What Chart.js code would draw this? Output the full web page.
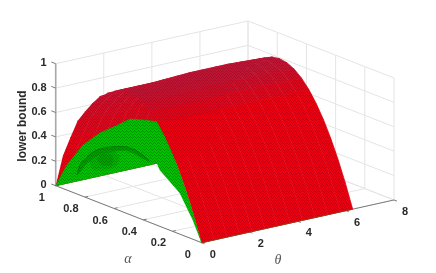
<!DOCTYPE html>
<html><head><meta charset="utf-8">
<style>html,body{margin:0;padding:0;background:#fff}#w{position:relative;width:436px;height:273px}</style>
<script src="https://cdn.jsdelivr.net/npm/chart.js@4"></script>
</head><body><div id="w"><canvas id="c" width="436" height="273"></canvas></div>
<script>
// ---- axis ticks ----
const thetaTicks=[0,2,4,6,8];
const alphaTicks=[0,0.2,0.4,0.6,0.8,1];
const zTicks=[0,0.2,0.4,0.6,0.8,1];
const alphaTickLabels=['0','0.2','0.4','0.6','0.8','1'];
const zTickLabels=['0','0.2','0.4','0.6','0.8','1'];
const zLabel='lower bound', alphaLabel='\u03b1', thetaLabel='\u03b8';
// ---- red surface ----
const redAlpha=[0,.05,.1,.15,.2,.25,.3,.35,.4,.45,.5,.55,.6,.65,.7,.75,.8,.85,.9,.95,1];
const redTheta=[0,.52,1.05,1.57,2.09,2.62,3.14,3.67,4.19,4.71,5.24,5.76,6.28];
const redZ=[
[0,.19,.36,.51,.64,.75,.84,.91,.96,.99,1,.99,.96,.92,.87,.79,.70,.60,.44,.27,0],
[0,.19,.36,.51,.64,.75,.84,.91,.96,.99,1,.99,.96,.92,.87,.79,.70,.60,.44,.27,0],
[0,.19,.36,.51,.64,.75,.84,.91,.96,.99,1,.99,.96,.92,.87,.79,.70,.60,.44,.27,0],
[0,.19,.36,.51,.64,.75,.84,.91,.96,.99,1,.99,.96,.92,.87,.79,.70,.60,.44,.27,0],
[0,.19,.36,.51,.64,.75,.84,.91,.965,.995,1.005,.995,.965,.92,.87,.79,.70,.60,.44,.27,0],
[0,.19,.36,.51,.64,.75,.84,.915,.97,1,1.01,1,.97,.92,.87,.79,.70,.60,.44,.27,0],
[0,.19,.36,.51,.64,.75,.84,.92,.975,1.005,1.015,1.005,.975,.925,.87,.79,.70,.60,.44,.27,0],
[0,.19,.36,.51,.64,.75,.84,.92,.975,1.005,1.015,1.005,.975,.925,.87,.79,.70,.60,.44,.27,0],
[0,.19,.36,.51,.64,.75,.84,.92,.975,1.005,1.015,1.005,.975,.925,.87,.79,.70,.60,.44,.27,0],
[0,.19,.36,.51,.64,.75,.84,.92,.975,1.005,1.015,1.005,.975,.925,.87,.79,.70,.60,.44,.27,0],
[0,.19,.36,.51,.64,.75,.84,.915,.97,1,1.012,1,.97,.92,.87,.79,.70,.60,.44,.27,0],
[0,.19,.36,.51,.64,.75,.84,.91,.965,.995,1.005,.995,.965,.92,.87,.79,.70,.60,.44,.27,0],
[0,.19,.36,.51,.64,.75,.84,.91,.96,.99,1,.99,.96,.92,.87,.79,.70,.60,.44,.27,0]
];
// ---- green surface outlines ----
const greenTheta=[0,4.22,0,0,0,0,0,0,0,0,0,0,0,0,0,0,0,0,0,0];
const greenAlpha=[1,1,.286,.149,.06,0,.05,.1,.15,.2,.25,.306,.402,.491,.56,.697,.813,.923,1,1];
const greenZ=[0,0,.462,.338,.158,0,.19,.36,.51,.64,.75,.848,.818,.784,.711,.574,.421,.206,0,0];
const humpTheta=[0,4.0,0,0,0,0,0,0,0,0,0,0,0,0,0,0,0];
const humpAlpha=[1,1,.36,.402,.457,.512,.56,.628,.697,.745,.786,.834,.854,.90,.94,.97,1];
const humpZ=[0,0,.50,.531,.547,.545,.527,.491,.443,.395,.335,.248,.156,.10,.06,.03,0];
const archAlpha=[.854,.834,.786,.745,.697,.628,.56,.512,.457,.402,.36];
const archZ=[.156,.248,.335,.395,.443,.491,.527,.545,.547,.531,.50];
const bandAlpha=[.854,.834,.786,.745,.697,.628,.56,.512,.457,.402,.36,.402,.457,.512,.56,.628,.697,.745,.786,.834];
const bandZ=[.156,.248,.335,.395,.443,.491,.527,.545,.547,.531,.50,.50,.515,.515,.495,.45,.395,.345,.285,.19];
const blobOuterAlpha=[.77,.72,.66,.60,.56,.58,.64,.70,.75];
const blobOuterZ=[.31,.39,.45,.48,.44,.36,.30,.27,.25];
const blobInnerAlpha=[.72,.68,.63,.60,.62,.68];
const blobInnerZ=[.35,.41,.44,.40,.34,.31];

// ---- view: orthographic projection of (theta, alpha, z) ----
const O={x:201.7,y:242.7}, T={x:24.04,y:-5.34}, A={x:-146,y:-57}, Z={x:0,y:-122};
const P=(t,a,z)=>({x:O.x+t*T.x+a*A.x+z*Z.x,y:O.y+t*T.y+a*A.y+z*Z.y});
const ctxP=document.createElement('canvas').getContext('2d');
function mesh(dot){
  const c=document.createElement('canvas');c.width=4;c.height=3;
  const g=c.getContext('2d');g.fillStyle=dot;
  [[0,0],[2,1],[1,2],[3,2]].forEach(p=>g.fillRect(p[0],p[1],1,1));
  return ctxP.createPattern(c,'repeat');
}
const mix=(a,b,t)=>'rgb('+a.map((v,i)=>Math.round(v+(b[i]-v)*t)).join(',')+')';
function redFill(z,far){
  const zz=Math.min(1,z);
  const s=far?Math.max(0,Math.min(1,.3+(zz-.55)/.45*.45)):Math.pow(Math.max(0,(zz-.80)/.20),1.2)*.8;
  return mix([234,0,14],[176,26,60],s);
}
const layers=[];
function line(pts,color,w){layers.push({data:pts,showLine:true,borderColor:color,borderWidth:w,pointRadius:0,fill:false,tension:0});}
function poly(pts,fill,edge,w){layers.push({data:pts,showLine:true,borderColor:edge,borderWidth:w,backgroundColor:fill,pointRadius:0,fill:'shape',tension:0});}

// walls and floor grid
const grid='#e4e4e4';
thetaTicks.forEach(t=>{line([P(t,1,0),P(t,1,1)],grid,1);line([P(t,0,0),P(t,1,0)],grid,1);});
alphaTicks.forEach(a=>{line([P(8,a,0),P(8,a,1)],grid,1);line([P(0,a,0),P(8,a,0)],grid,1);});
zTicks.forEach(z=>{line([P(0,1,z),P(8,1,z)],grid,1);line([P(8,1,z),P(8,0,z)],grid,1);});
// axes
line([P(0,1,0),P(0,1,1)],'#a8a8a8',1.6);
line([P(0,1,0),P(0,0,0)],'#7a7a7a',1);
line([P(0,0,0),P(8,0,0)],'#7a7a7a',1);
zTicks.forEach(z=>line([P(0,1,z),P(0,1.03,z)],'#7a7a7a',1));
alphaTicks.forEach(a=>line([P(0,a,0),P(.14,a,0)],'#7a7a7a',1));
thetaTicks.forEach(t=>line([P(t,0,0),P(t,-.02,0)],'#7a7a7a',1));

const n=redTheta.length-1;
function redRows(from,to,far){
  for(let j=from;j>to;j--){
    for(let i=n-1;i>=0;i--){
      const za=redZ[i][j],zb=redZ[i+1][j],zc=redZ[i+1][j-1],zd=redZ[i][j-1];
      const c=redFill((za+zb+zc+zd)/4,far);
      poly([P(redTheta[i],redAlpha[j],za),P(redTheta[i+1],redAlpha[j],zb),P(redTheta[i+1],redAlpha[j-1],zc),P(redTheta[i],redAlpha[j-1],zd)],c,c,.8);
    }
  }
}
// outline of the rows from j0 (low alpha) to j1 (high alpha), for the mesh overlay
function redOutline(j0,j1){
  const pts=[];
  for(let j=j0;j<=j1;j++)pts.push(P(redTheta[0],redAlpha[j],redZ[0][j]));
  for(let i=1;i<=n;i++)pts.push(P(redTheta[i],redAlpha[j1],redZ[i][j1]));
  for(let j=j1-1;j>=j0;j--)pts.push(P(redTheta[n],redAlpha[j],redZ[n][j]));
  for(let i=n-1;i>=0;i--)pts.push(P(redTheta[i],redAlpha[j0],redZ[i][j0]));
  return pts;
}
const redMesh=mesh('rgba(110,0,30,.26)');
const greenMesh=mesh('rgba(0,60,0,.32)');
// far half of the red sheet
redRows(redAlpha.length-1,11,true);
poly(redOutline(11,redAlpha.length-1),redMesh,'rgba(0,0,0,0)',0);
// green sheet
const G=(t,a,z)=>a.map((v,i)=>P(t?t[i]:0,v,z[i]));
poly(G(greenTheta,greenAlpha,greenZ),'rgb(0,192,0)','rgb(0,180,0)',.6);
poly(G(humpTheta,humpAlpha,humpZ),'rgb(0,194,0)','rgb(0,186,0)',.5);
poly(G(null,blobOuterAlpha,blobOuterZ),'rgb(0,178,0)','rgb(0,184,0)',1);
poly(G(null,blobInnerAlpha,blobInnerZ),'rgb(0,160,0)','rgb(0,170,0)',1);
poly(G(null,bandAlpha,bandZ),'rgb(0,156,0)','rgb(0,162,0)',.5);
line(G(null,archAlpha,archZ),'rgb(0,130,0)',1);
poly(G(greenTheta,greenAlpha,greenZ),greenMesh,'rgba(0,0,0,0)',0);
// near half of the red sheet
redRows(11,0,false);
poly(redOutline(0,11),redMesh,'rgba(0,0,0,0)',0);
line([P(0,0,0),P(6.28,0,0)],'rgba(110,90,20,.7)',.8);

const ordered=layers.slice().reverse();
const labels={id:'labels',afterDraw(ch){
  const c=ch.ctx,sx=ch.scales.x,sy=ch.scales.y;
  const px=p=>({x:sx.getPixelForValue(p.x),y:sy.getPixelForValue(p.y)});
  c.save();c.fillStyle='#2a2a2a';c.textBaseline='middle';c.font='bold 11px "Liberation Sans"';
  c.textAlign='right';
  zTicks.forEach((z,i)=>{const p=px(P(0,1,z));c.fillText(zTickLabels[i],p.x-9,p.y-.5);});
  c.textAlign='center';
  alphaTicks.forEach((a,i)=>{const p=px(P(0,a,0));c.fillText(alphaTickLabels[i],p.x-14,p.y+12);});
  thetaTicks.forEach(t=>{const p=px(P(t,0,0));c.fillText(String(t),p.x+11,p.y+12);});
  c.save();c.font='bold 12px "Liberation Sans"';c.translate(22.5,126);c.rotate(-Math.PI/2);c.fillText(zLabel,0,0);c.restore();
  c.fillStyle='#555';c.font='italic 14px "Liberation Serif"';
  c.fillText(alphaLabel,128,259);c.fillText(thetaLabel,278,260);
  c.restore();
}};
new Chart(document.getElementById('c'),{
  type:'scatter',
  data:{datasets:ordered},
  options:{responsive:false,animation:false,events:[],
    layout:{padding:0},
    plugins:{legend:{display:false},tooltip:{enabled:false},filler:{propagate:false}},
    scales:{x:{type:'linear',min:0,max:436,display:false},y:{type:'linear',min:0,max:273,reverse:true,display:false}}
  },
  plugins:[labels]
});
</script></body></html>
